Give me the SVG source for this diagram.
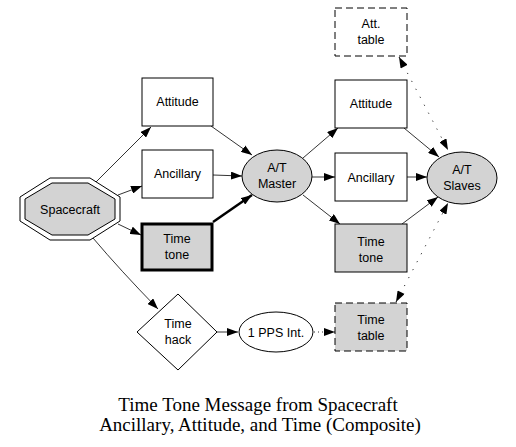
<svg xmlns="http://www.w3.org/2000/svg" width="516" height="447" viewBox="0 0 516 447">
<style>
.n{fill:#fff;stroke:#000;stroke-width:1}
.g{fill:#d3d3d3;stroke:#000;stroke-width:1}
.d{stroke-dasharray:7,4}
.t{font-family:"Liberation Sans",Arial,sans-serif;font-size:12.5px;text-anchor:middle;fill:#000}
.cap{font-family:"Liberation Serif","Times New Roman",serif;font-size:19px;text-anchor:middle;fill:#000}
.e{fill:none;stroke:#000;stroke-width:0.8;marker-end:url(#ah)}
.dot{fill:none;stroke:#000;stroke-width:1;stroke-dasharray:1,8;marker-end:url(#ah);marker-start:url(#as)}
</style>
<defs>
<marker id="ah" markerUnits="userSpaceOnUse" markerWidth="12" markerHeight="8" refX="11" refY="4" orient="auto"><path d="M0,0 L11,4 L0,8 z" fill="#000"/></marker>
<marker id="as" markerUnits="userSpaceOnUse" markerWidth="12" markerHeight="8" refX="0" refY="4" orient="auto"><path d="M11,0 L0,4 L11,8 z" fill="#000"/></marker>
</defs>
<rect width="516" height="447" fill="#fff"/>
<g id="edges">
<path class="e" d="M96,182 L151,127"/>
<path class="e" d="M118,195 L142,186"/>
<path class="e" d="M118,224 L141,235"/>
<path class="e" d="M93,238 Q120,270 158,309"/>
<path class="e" d="M211,126 L252,155"/>
<path class="e" d="M213,175 L242,176"/>
<path class="e" d="M213,222 L252,195" style="stroke-width:2.5"/>
<path class="e" d="M303,158 L338,128"/>
<path class="e" d="M312,177 L335,177"/>
<path class="e" d="M303,195 L340,224"/>
<path class="e" d="M404,128 L439,157"/>
<path class="e" d="M407,177 L427,177"/>
<path class="e" d="M402,224 L438,197"/>
<path class="dot" d="M399,57 L448,150"/>
<path class="dot" d="M396,302 L448,203"/>
<path class="e" d="M217,332 L238,332"/>
<path class="e" d="M314,332 L335,332" style="stroke-dasharray:1,3"/>
</g>
<g id="spacecraft">
<polygon class="n" points="50,178 90,178 120,197 120,221 90,240 50,240 20,221 20,197"/>
<polygon class="g" points="52,183 88,183 115,199 115,219 88,235 52,235 25,219 25,199"/>
<text class="t" x="70" y="214">Spacecraft</text>
</g>
<g id="attitude1"><rect class="n" x="142" y="78" width="71" height="48"/><text class="t" x="177.5" y="106">Attitude</text></g>
<g id="ancillary1"><rect class="n" x="142" y="150" width="71" height="48"/><text class="t" x="177.5" y="178">Ancillary</text></g>
<g id="timetone1"><rect class="g" x="142" y="224" width="70" height="46" style="stroke-width:3"/><text class="t" x="177" y="243">Time</text><text class="t" x="177" y="259">tone</text></g>
<g id="master"><ellipse class="g" cx="277" cy="176" rx="35" ry="26"/><text class="t" x="277" y="172">A/T</text><text class="t" x="277" y="188">Master</text></g>
<g id="atttable"><rect class="n d" x="335" y="8" width="72" height="48"/><text class="t" x="371" y="28">Att.</text><text class="t" x="371" y="44">table</text></g>
<g id="attitude2"><rect class="n" x="335" y="80" width="72" height="48"/><text class="t" x="371" y="108">Attitude</text></g>
<g id="ancillary2"><rect class="n" x="335" y="153" width="72" height="48"/><text class="t" x="371" y="182">Ancillary</text></g>
<g id="timetone2"><rect class="g" x="335" y="224" width="72" height="48"/><text class="t" x="371" y="246">Time</text><text class="t" x="371" y="262">tone</text></g>
<g id="timetable"><rect class="g d" x="335" y="303" width="72" height="48"/><text class="t" x="371" y="324">Time</text><text class="t" x="371" y="340">table</text></g>
<g id="slaves"><ellipse class="g" cx="462" cy="178" rx="35" ry="26"/><text class="t" x="462" y="174">A/T</text><text class="t" x="462" y="190">Slaves</text></g>
<g id="timehack"><polygon class="n" points="178,294 217,332 178,370 137,332"/><text class="t" x="178" y="328">Time</text><text class="t" x="178" y="344">hack</text></g>
<g id="pps"><ellipse class="n" cx="276" cy="332" rx="37" ry="20"/><text class="t" x="276" y="337">1 PPS Int.</text></g>
<g id="caption">
<text class="cap" x="258" y="411">Time Tone Message from Spacecraft</text>
<text class="cap" x="260" y="431">Ancillary, Attitude, and Time (Composite)</text>
</g>
</svg>
